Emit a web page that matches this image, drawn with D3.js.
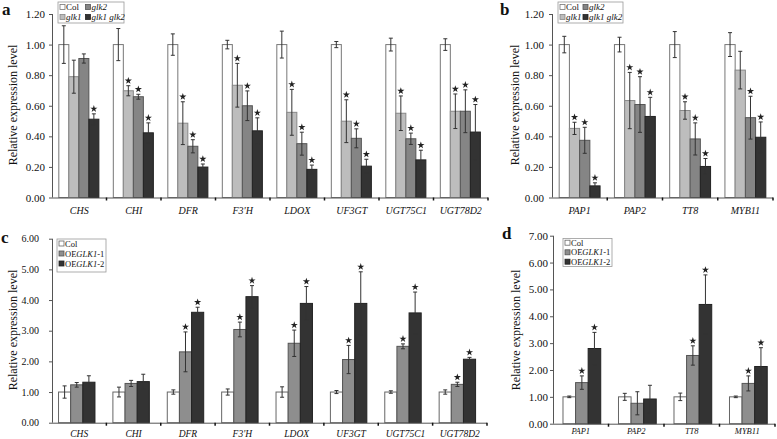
<!DOCTYPE html>
<html><head><meta charset="utf-8">
<script src="https://cdn.jsdelivr.net/npm/d3@7/dist/d3.min.js"></script>
<style>
body{margin:0;background:#fff;}
</style></head>
<body><svg id="chart" width="777" height="439"></svg>
<script>
// ---------- DATA ----------
const catsA = ["CHS","CHI","DFR","F3'H","LDOX","UF3GT","UGT75C1","UGT78D2"];
const seriesA = ["Col","glk1","glk2","glk1 glk2"];
const colA  = [1,1,1,1,1,1,1,1];
const colAErr = [0.123,0.105,0.07,0.028,0.088,0.02,0.042,0.038];
const glk1A = [0.79,0.698,0.486,0.734,0.557,0.499,0.551,0.564];
const glk1AErr = [0.108,0.033,0.14,0.143,0.15,0.14,0.113,0.113];
const glk2A = [0.909,0.659,0.335,0.60,0.352,0.387,0.384,0.564];
const glk2AErr = [0.03,0.016,0.043,0.097,0.075,0.062,0.037,0.14];
const dblA = [0.512,0.423,0.199,0.436,0.184,0.205,0.246,0.428];
const dblAErr = [0.035,0.065,0.02,0.085,0.028,0.045,0.063,0.18];
const colAStar  = [0,0,0,0,0,0,0,0];
const glk1AStar = [0,1,1,1,1,1,1,1];
const glk2AStar = [0,1,1,1,1,1,1,1];
const dblAStar  = [1,1,1,1,1,1,1,1];

const catsB = ["PAP1","PAP2","TT8","MYB11"];
const colB = [1,1,1,1];
const colBErr = [0.054,0.048,0.085,0.078];
const glk1B = [0.452,0.634,0.569,0.833];
const glk1BErr = [0.04,0.184,0.057,0.123];
const glk2B = [0.374,0.608,0.383,0.522];
const glk2BErr = [0.085,0.182,0.105,0.14];
const dblB = [0.076,0.530,0.203,0.394];
const dblBErr = [0.02,0.125,0.052,0.10];
const colBStar  = [0,0,0,0];
const glk1BStar = [1,1,1,0];
const glk2BStar = [1,1,1,1];
const dblBStar  = [1,1,1,1];

const seriesC = ["Col","OEGLK1-1","OEGLK1-2"];
const colC = [1,1,1,1,1,1,1,1];
const colCErr = [0.2,0.16,0.07,0.1,0.17,0.05,0.04,0.07];
const oe1C = [1.235,1.28,2.31,3.04,2.59,2.06,2.49,1.25];
const oe1CErr = [0.075,0.1,0.65,0.24,0.43,0.46,0.08,0.07];
const oe2C = [1.32,1.34,3.60,4.11,3.89,3.89,3.58,2.07];
const oe2CErr = [0.21,0.24,0.165,0.36,0.55,1.03,0.68,0.06];
const colCStar = [0,0,0,0,0,0,0,0];
const oe1CStar = [0,0,1,1,1,1,1,1];
const oe2CStar = [0,0,1,1,1,1,1,1];

const colD = [1,1,1,1];
const colDErr = [0.03,0.13,0.14,0.03];
const oe1D = [1.53,0.76,2.54,1.50];
const oe1DErr = [0.25,0.43,0.36,0.28];
const oe2D = [2.80,0.92,4.44,2.13];
const oe2DErr = [0.6,0.51,1.1,0.7];
const colDStar = [0,0,0,0];
const oe1DStar = [1,0,1,1];
const oe2DStar = [1,0,1,1];

const ticksAB = [0,0.2,0.4,0.6,0.8,1.0,1.2];
const ticksC = [0,1,2,3,4,5,6];
const ticksD = [0,1,2,3,4,5,6,7];

// ---------- DRAW ----------
const FONT = "Liberation Serif";
const svg = d3.select("#chart");
const fmt = d3.format(".2f");
const starPath = d3.symbol().type(d3.symbolStar).size(16)();

function txt(sel){ return sel.style("font-family", FONT); }

function panel(cfg){
  const g = svg.append("g");
  const x = d3.scaleBand().domain(cfg.cats).range([cfg.x0, cfg.x1]).padding(0);
  const bw = x.bandwidth();
  const xs = d3.scaleBand().domain(cfg.series.map(s=>s.name)).range([bw*cfg.grp[0], bw*cfg.grp[1]]).padding(0);
  const y = d3.scaleLinear().domain([0, cfg.max]).range([cfg.y0, cfg.yTop]);

  // y axis
  const ax = g.append("g").attr("transform",`translate(${cfg.x0},0)`)
    .call(d3.axisLeft(y).tickValues(cfg.ticks).tickFormat(fmt).tickSize(3).tickSizeOuter(0).tickPadding(cfg.tickGap));
  ax.select(".domain").attr("stroke","#555").attr("d",`M0.5,${cfg.y0}V${cfg.yTop}`);
  ax.selectAll(".tick line").attr("stroke","#555");
  txt(ax.selectAll(".tick text")).attr("font-size",cfg.tickFont).attr("fill","#111");

  // bars
  cfg.series.forEach(s=>{
    const gs = g.append("g");
    cfg.cats.forEach((c,i)=>{
      const v = s.values[i], e = s.err[i];
      const bx = x(c)+xs(s.name), w = xs.bandwidth();
      gs.append("rect").attr("x",bx).attr("y",y(v)).attr("width",w).attr("height",y(0)-y(v))
        .attr("fill",s.fill).attr("stroke",s.stroke).attr("stroke-width",1);
      const cx = bx + w/2;
      gs.append("line").attr("x1",cx).attr("x2",cx).attr("y1",y(v+e)).attr("y2",y(Math.max(0,v-e)))
        .attr("stroke","#333").attr("stroke-width",1);
      [v+e, Math.max(0,v-e)].forEach(t=>{
        gs.append("line").attr("x1",cx-2).attr("x2",cx+2).attr("y1",y(t)).attr("y2",y(t))
          .attr("stroke","#333").attr("stroke-width",1);
      });
      if(s.star[i]){
        gs.append("path").attr("d",starPath)
          .attr("transform",`translate(${cx},${y(v+e)-5})`).attr("fill","#222");
      }
    });
  });

  // x axis line and boundary ticks
  g.append("line").attr("x1",cfg.x0).attr("x2",cfg.x1).attr("y1",cfg.y0+0.5).attr("y2",cfg.y0+0.5)
    .attr("stroke","#555");
  const bounds = cfg.cats.slice(1).map(c=>x(c)).concat([cfg.x1]);
  g.selectAll(null).data(bounds).enter().append("line")
    .attr("x1",d=>d).attr("x2",d=>d).attr("y1",cfg.y0).attr("y2",cfg.y0+3)
    .attr("stroke","#111").attr("stroke-width",1.5);
  txt(g.selectAll(null).data(cfg.cats).enter().append("text"))
    .attr("x",d=>x(d)+bw/2).attr("y",cfg.catY).attr("text-anchor","middle")
    .attr("font-size",cfg.catFont).attr("font-style","italic").attr("fill","#111").text(d=>d);

  // y title
  txt(g.append("text")).attr("transform",`translate(${cfg.titleX},${cfg.titleY}) rotate(-90)`)
    .attr("text-anchor","middle").attr("dominant-baseline","central")
    .attr("font-size",cfg.titleFont).attr("fill","#111").text("Relative expression level");

  // panel letter
  txt(g.append("text")).attr("x",cfg.letterX).attr("y",cfg.letterY).attr("font-size",17)
    .attr("font-weight","bold").attr("fill","#111").text(cfg.letter);

  // legend
  const L = cfg.legend;
  g.append("rect").attr("x",L.x).attr("y",L.y).attr("width",L.w).attr("height",L.h)
    .attr("fill","#fff").attr("stroke","#999").attr("stroke-width",0.8);
  L.items.forEach((it,k)=>{
    const s = cfg.series[k];
    g.append("rect").attr("x",it.sx).attr("y",it.y-2.5).attr("width",5).attr("height",5)
      .attr("fill",s.fill).attr("stroke",s.stroke).attr("stroke-width",0.8);
    const t = txt(g.append("text")).attr("x",it.tx).attr("y",it.y).attr("dominant-baseline","central")
      .attr("font-size",L.font).attr("fill","#111");
    it.parts.forEach(p=>t.append("tspan").attr("font-style",p[1]?"italic":"normal").text(p[0]));
  });
}

const fills = {col:"#ffffff", g1:"#bdbdbd", g2:"#858585", dbl:"#333333", oe1:"#8e8e8e"};

panel({
  cats:catsA, x0:52, x1:488, yTop:14, y0:197.5, max:1.2, ticks:ticksAB, grp:[0.125,0.86],
  tickGap:4, tickFont:11, catFont:10, catY:214, titleX:13, titleY:105, titleFont:12,
  letter:"a", letterX:2, letterY:15,
  series:[
    {name:seriesA[0], values:colA, err:colAErr, star:colAStar, fill:fills.col, stroke:"#777"},
    {name:seriesA[1], values:glk1A, err:glk1AErr, star:glk1AStar, fill:fills.g1, stroke:"#888"},
    {name:seriesA[2], values:glk2A, err:glk2AErr, star:glk2AStar, fill:fills.g2, stroke:"#555"},
    {name:seriesA[3], values:dblA, err:dblAErr, star:dblAStar, fill:fills.dbl, stroke:"#222"}
  ],
  legend:{x:58,y:2,w:66,h:21,font:9,items:[
    {sx:60,tx:66,y:7,parts:[["Col",false]]},
    {sx:60,tx:66,y:17,parts:[["glk1",true]]},
    {sx:85.5,tx:91.5,y:7,parts:[["glk2",true]]},
    {sx:85.5,tx:91.5,y:17,parts:[["glk1 glk2",true]]}
  ]}
});

panel({
  cats:catsB, x0:552, x1:773, yTop:14, y0:197.5, max:1.2, ticks:ticksAB, grp:[0.13,0.87],
  tickGap:5, tickFont:11, catFont:10, catY:214, titleX:515, titleY:105, titleFont:12,
  letter:"b", letterX:500, letterY:15,
  series:[
    {name:seriesA[0], values:colB, err:colBErr, star:colBStar, fill:fills.col, stroke:"#777"},
    {name:seriesA[1], values:glk1B, err:glk1BErr, star:glk1BStar, fill:fills.g1, stroke:"#888"},
    {name:seriesA[2], values:glk2B, err:glk2BErr, star:glk2BStar, fill:fills.g2, stroke:"#555"},
    {name:seriesA[3], values:dblB, err:dblBErr, star:dblBStar, fill:fills.dbl, stroke:"#222"}
  ],
  legend:{x:558,y:2,w:65,h:21,font:9,items:[
    {sx:560,tx:566,y:7,parts:[["Col",false]]},
    {sx:560,tx:566,y:17,parts:[["glk1",true]]},
    {sx:583,tx:589,y:7,parts:[["glk2",true]]},
    {sx:583,tx:589,y:17,parts:[["glk1 glk2",true]]}
  ]}
});

panel({
  cats:catsA, x0:52, x1:487, yTop:238.7, y0:422.7, max:6, ticks:ticksC, grp:[0.12,0.79],
  tickGap:10, tickFont:10, catFont:9.5, catY:437, titleX:13, titleY:330, titleFont:12,
  letter:"c", letterX:1, letterY:243,
  series:[
    {name:seriesC[0], values:colC, err:colCErr, star:colCStar, fill:fills.col, stroke:"#666"},
    {name:seriesC[1], values:oe1C, err:oe1CErr, star:oe1CStar, fill:fills.oe1, stroke:"#555"},
    {name:seriesC[2], values:oe2C, err:oe2CErr, star:oe2CStar, fill:fills.dbl, stroke:"#222"}
  ],
  legend:{x:57,y:239,w:49,h:33,font:8.5,items:[
    {sx:59,tx:65,y:243.5,parts:[["Col",false]]},
    {sx:59,tx:65,y:253.5,parts:[["OE",false],["GLK1",true],["-1",false]]},
    {sx:59,tx:65,y:263.5,parts:[["OE",false],["GLK1",true],["-2",false]]}
  ]}
});

panel({
  cats:catsB, x0:553, x1:775, yTop:235.7, y0:423.7, max:7, ticks:ticksD, grp:[0.18,0.86],
  tickGap:2, tickFont:11, catFont:8.5, catY:434, titleX:516, titleY:330, titleFont:12,
  letter:"d", letterX:502, letterY:239,
  series:[
    {name:seriesC[0], values:colD, err:colDErr, star:colDStar, fill:fills.col, stroke:"#666"},
    {name:seriesC[1], values:oe1D, err:oe1DErr, star:oe1DStar, fill:fills.oe1, stroke:"#555"},
    {name:seriesC[2], values:oe2D, err:oe2DErr, star:oe2DStar, fill:fills.dbl, stroke:"#222"}
  ],
  legend:{x:563,y:238.5,w:49,h:28,font:8.5,items:[
    {sx:565,tx:571,y:242.7,parts:[["Col",false]]},
    {sx:565,tx:571,y:252.3,parts:[["OE",false],["GLK1",true],["-1",false]]},
    {sx:565,tx:571,y:261.7,parts:[["OE",false],["GLK1",true],["-2",false]]}
  ]}
});
</script></body></html>
